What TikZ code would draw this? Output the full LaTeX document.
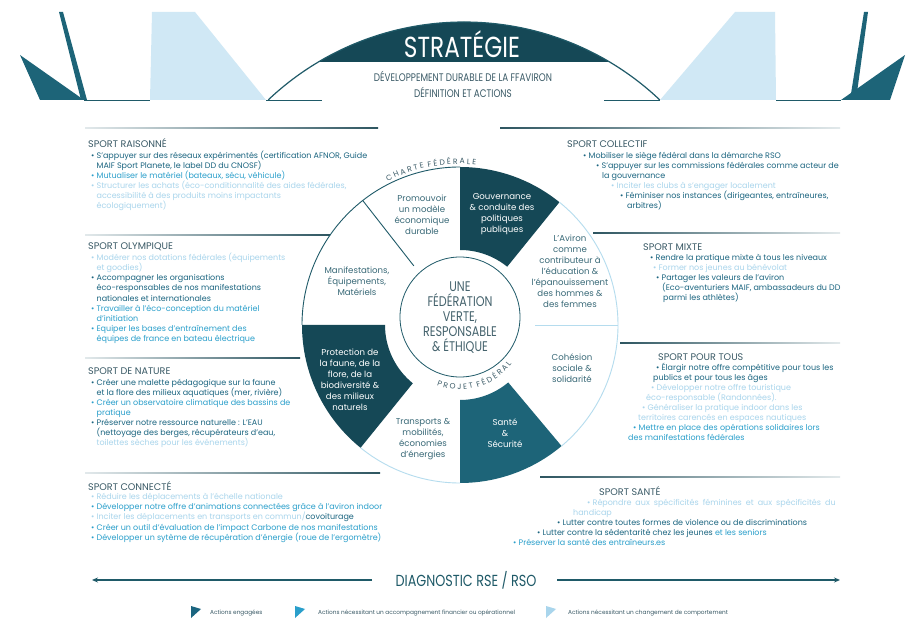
\documentclass[tikz,border=0pt]{standalone}
\usepackage{fontspec}
\setmainfont{Poppins}
\newfontfamily\narrowfont[FakeStretch=0.8]{Poppins}
\usetikzlibrary{decorations.text,arrows.meta}
\definecolor{darkteal}{HTML}{154856}
\definecolor{midteal}{HTML}{1D6478}
\definecolor{lineteal}{HTML}{1F5A68}
\definecolor{paleblue}{HTML}{D0E8F5}
\definecolor{ringblue}{HTML}{B5DCEE}
\definecolor{cEng}{HTML}{1B6580}
\definecolor{cAcc}{HTML}{2A9FCB}
\definecolor{cChg}{HTML}{A9D5EC}
\definecolor{headc}{HTML}{3A5A66}
\definecolor{corec}{HTML}{45636D}
\definecolor{wedgetext}{HTML}{3A6A78}
\definecolor{sepdark}{HTML}{2D5560}
\definecolor{seplight}{HTML}{E2E9EB}
\newcommand{\bl}{\textbullet\ }
\newcommand{\ind}{\hphantom{\textbullet\ }}
\begin{document}
\begin{tikzpicture}[x=1pt,y=1pt,
  bt/.style={anchor=base west, inner sep=0pt, font=\fontsize{8}{10}\selectfont},
  hd/.style={anchor=base west, inner sep=0pt, font=\fontsize{9.6}{10}\selectfont, text=headc},
  wl/.style={align=center, inner sep=0pt, font=\fontsize{8.6}{11}\selectfont, text=wedgetext},
  wlw/.style={wl, text=white},
  lg/.style={anchor=base west, inner sep=0pt, font=\fontsize{5.8}{6}\selectfont, text=headc}
  ]
\useasboundingbox (0,0) rectangle (906,-620);
\fill[white] (0,0) rectangle (906,-620);

% ---------- top decorations ----------
\fill[paleblue] (152,-12) -- (195,-12) -- (266,-100) -- (150,-100) -- cycle;
\fill[paleblue] (735,-12) -- (775,-12) -- (776,-100) -- (660,-100) -- cycle;
\fill[midteal] (20,-55) -- (84,-100) -- (40,-100) -- cycle;
\fill[midteal] (59,-12) -- (63,-12) -- (87,-100) -- (81,-100) -- cycle;
\fill[midteal] (905,-55) -- (890,-100) -- (841,-100) -- cycle;
\fill[midteal] (864,-12) -- (868,-12) -- (856,-100) -- (850,-100) -- cycle;
\draw[lineteal, line width=0.8] (84,-100) -- (150,-100);
\draw[lineteal, line width=0.8] (776,-100) -- (841,-100);
\draw[lineteal, line width=0.8] (266,-100) -- (322,-100);
\draw[lineteal, line width=0.8] (604,-100) -- (660,-100);

% ---------- dome ----------
\begin{scope}
\clip (464,-307) circle[radius=285];
\fill[darkteal] (150,-15) rectangle (780,-62);
\end{scope}
\draw[lineteal, line width=1.2] (464,-307) ++(133.4:285) arc[start angle=133.4,end angle=46.6,radius=285];
\node[font=\narrowfont\fontsize{29}{29}\selectfont, text=white, inner sep=0pt] (title) at (462,-44) {STRATÉGIE};
\node[align=center, font=\narrowfont\fontsize{11}{16}\selectfont, text=headc, inner sep=0pt] (sub) at (463,-84) {DÉVELOPPEMENT DURABLE DE LA FFAVIRON\\DÉFINITION ET ACTIONS};

% ---------- separator lines ----------
\shade[left color=seplight, right color=sepdark] (85,-127.5) rectangle (378,-128.7);
\shade[left color=seplight, right color=sepdark] (85,-234.5) rectangle (330,-235.7);
\shade[left color=seplight, right color=sepdark] (85,-357.5) rectangle (300,-358.7);
\shade[left color=seplight, right color=sepdark] (85,-472.5) rectangle (380,-473.7);
\shade[left color=sepdark, right color=seplight] (500,-127.5) rectangle (840,-128.7);
\shade[left color=sepdark, right color=seplight] (593,-232.5) rectangle (840,-233.7);
\shade[left color=sepdark, right color=seplight] (620,-342.5) rectangle (840,-343.7);
\shade[left color=sepdark, right color=seplight] (540,-476.5) rectangle (840,-477.7);

% ---------- wheel ----------
\begin{scope}[shift={(460,-325)}]
\fill[darkteal] (51:75) -- (51:158) arc[start angle=51,end angle=90,radius=158] -- (90:75) arc[start angle=90,end angle=51,radius=75] -- cycle;
\fill[darkteal] (180:75) -- (180:158) arc[start angle=180,end angle=231,radius=158] -- (231:75) arc[start angle=231,end angle=180,radius=75] -- cycle;
\fill[midteal] (270:75) -- (270:158) arc[start angle=270,end angle=310,radius=158] -- (310:75) arc[start angle=310,end angle=270,radius=75] -- cycle;
\draw[lineteal, line width=0.9] (90:158) arc[start angle=90,end angle=180,radius=158];
\draw[ringblue, line width=0.9] (231:158) arc[start angle=231,end angle=270,radius=158];
\draw[ringblue, line width=0.9] (310:158) arc[start angle=310,end angle=411,radius=158];
\draw[lineteal, line width=0.9] (128:75) -- (128:158);
\draw[ringblue, line width=0.9] (0:75) -- (0:158);
\path[decorate, decoration={text along path, text align=center,
  text={|\fontsize{7.6}{7.6}\selectfont\color{headc}|C H A R T E \ F É D É R A L E}}]
  (120:161) arc[start angle=120,end angle=81,radius=161];
\path[decorate, decoration={text along path, text align=center,
  text={|\fontsize{7.6}{7.6}\selectfont\color{headc}|P R O J E T \ F É D É R A L}}]
  (-120:64.5) arc[start angle=-120,end angle=-28,radius=64.5];
\end{scope}
\draw[lineteal, line width=0.8] (460,-317) circle[radius=60];

\node[align=center, inner sep=0pt, font=\narrowfont\fontsize{14}{15}\selectfont, text=corec] (core) at (460,-318) {UNE\\FÉDÉRATION\\VERTE,\\RESPONSABLE\\\& ÉTHIQUE};
\node[wl] (w1) at (422,-214.5) {Promouvoir\\un modèle\\économique\\durable};
\node[wlw] (w2) at (502,-214.5) {Gouvernance\\\& conduite des\\politiques\\publiques};
\node[wl] (w3) at (570,-271.5) {L’Aviron\\comme\\contributeur à\\l’éducation \&\\l’épanouissement\\des hommes \&\\des femmes};
\node[wl] (w4) at (572,-368) {Cohésion\\sociale \&\\solidarité};
\node[wlw] (w5) at (505,-433) {Santé\\\&\\Sécurité};
\node[wl] (w6) at (423,-439.5) {Transports \&\\mobilités,\\économies\\d’énergies};
\node[wlw] (w7) at (350,-379.5) {Protection de\\la faune, de la\\flore, de la\\biodiversité \&\\des milieux\\naturels};
\node[wl] (w8) at (357,-281) {Manifestations,\\Équipements,\\Matériels};

% ---------- left texts ----------
\node[hd] (h1) at (88,-148) {SPORT RAISONNÉ};
\node[bt, text=cEng] (a1) at (91,-159) {\bl S’appuyer sur des réseaux expérimentés (certification AFNOR, Guide};
\node[bt, text=cEng] (a2) at (91,-169) {\ind MAIF Sport Planete, le label DD du CNOSF)};
\node[bt, text=cAcc] (a3) at (91,-179) {\bl Mutualiser le matériel (bateaux, sécu, véhicule)};
\node[bt, text=cChg] (a4) at (91,-189) {\bl Structurer les achats (éco-conditionnalité des aides fédérales,};
\node[bt, text=cChg] (a5) at (91,-199) {\ind accessibilité à des produits moins impactants};
\node[bt, text=cChg] (a6) at (91,-209) {\ind écologiquement)};

\node[hd] (h2) at (88,-249.5) {SPORT OLYMPIQUE};
\node[bt, text=cChg] (b1) at (91,-260.5) {\bl Modérer nos dotations fédérales (équipements};
\node[bt, text=cChg] (b2) at (91,-270.5) {\ind et goodies)};
\node[bt, text=cEng] (b3) at (91,-281) {\bl Accompagner les organisations};
\node[bt, text=cEng] (b4) at (91,-291) {\ind éco-responsables de nos manifestations};
\node[bt, text=cEng] (b5) at (91,-301.5) {\ind nationales et internationales};
\node[bt, text=cAcc] (b6) at (91,-312) {\bl Travailler à l’éco-conception du matériel};
\node[bt, text=cAcc] (b7) at (91,-322) {\ind d’initiation};
\node[bt, text=cAcc] (b8) at (91,-332) {\bl Equiper les bases d’entraînement des};
\node[bt, text=cAcc] (b9) at (91,-342) {\ind équipes de france en bateau électrique};

\node[hd] (h3) at (88,-374.5) {SPORT DE NATURE};
\node[bt, text=cEng] (c1) at (91,-385.5) {\bl Créer une malette pédagogique sur la faune};
\node[bt, text=cEng] (c2) at (91,-395.5) {\ind et la flore des milieux aquatiques (mer, rivière)};
\node[bt, text=cAcc] (c3) at (91,-406) {\bl Créer un observatoire climatique des bassins de};
\node[bt, text=cAcc] (c4) at (91,-416) {\ind pratique};
\node[bt, text=cEng] (c5) at (91,-426) {\bl Préserver notre ressource naturelle : L’EAU};
\node[bt, text=cEng] (c6) at (91,-436) {\ind (nettoyage des berges, récupérateurs d’eau,};
\node[bt, text=cChg] (c7) at (91,-446) {\ind toilettes sèches pour les événements)};

\node[hd] (h4) at (88,-490) {SPORT CONNECTÉ};
\node[bt, text=cChg] (d1) at (91,-500) {\bl Réduire les déplacements à l’échelle nationale};
\node[bt, text=cAcc] (d2) at (91,-510) {\bl Développer notre offre d’animations connectées grâce à l’aviron indoor};
\node[bt, text=cChg] (d3) at (91,-520) {\bl Inciter les déplacements en transports en commun/\textcolor{cEng}{covoiturage}};
\node[bt, text=cAcc] (d4) at (91,-530) {\bl Créer un outil d’évaluation de l’impact Carbone de nos manifestations};
\node[bt, text=cAcc] (d5) at (91,-540) {\bl Développer un sytème de récupération d’énergie (roue de l’ergomètre)};

% ---------- right texts ----------
\node[hd] (h5) at (567,-148) {SPORT COLLECTIF};
\node[bt, text=cEng] (e1) at (583,-158.5) {\bl Mobiliser le siège fédéral dans la démarche RSO};
\node[bt, text=cEng] (e2) at (596,-168.5) {\bl S’appuyer sur les commissions fédérales comme acteur de};
\node[bt, text=cEng] (e3) at (602,-178.5) {la gouvernance};
\node[bt, text=cChg] (e4) at (611,-188.5) {\bl Inciter les clubs à s’engager localement};
\node[bt, text=cEng] (e5) at (620,-198.5) {\bl Féminiser nos instances (dirigeantes, entraîneures,};
\node[bt, text=cEng] (e6) at (627,-208.5) {arbitres)};

\node[hd] (h6) at (643,-250.5) {SPORT MIXTE};
\node[bt, text=cEng] (f1) at (650,-260.5) {\bl Rendre la pratique mixte à tous les niveaux};
\node[bt, text=cChg] (f2) at (653,-270.5) {\bl Former nos jeunes au bénévolat};
\node[bt, text=cEng] (f3) at (656,-280.5) {\bl Partager les valeurs de l’aviron};
\node[bt, text=cEng] (f4) at (662,-290.5) {(Eco-aventuriers MAIF, ambassadeurs du DD};
\node[bt, text=cEng] (f5) at (663,-300.5) {parmi les athlètes)};

\node[hd] (h7) at (658,-360.5) {SPORT POUR TOUS};
\node[bt, text=cEng] (g1) at (656,-370.5) {\bl Élargir notre offre compétitive pour tous les};
\node[bt, text=cEng] (g2) at (653,-380.5) {publics et pour tous les âges};
\node[bt, text=cChg] (g3) at (651,-390.5) {\bl Développer notre offre touristique};
\node[bt, text=cChg] (g4) at (646,-400.5) {éco-responsable (Randonnées).};
\node[bt, text=cChg] (g5) at (642,-410.5) {\bl Généraliser la pratique indoor dans les};
\node[bt, text=cChg] (g6) at (638,-420.5) {territoires carencés en espaces nautiques};
\node[bt, text=cAcc] (g7) at (633,-430.5) {\bl Mettre en place des opérations solidaires lors};
\node[bt, text=cAcc] (g8) at (628,-440.5) {des manifestations fédérales};

\node[hd] (h8) at (599,-496) {SPORT SANTÉ};
\node[bt, text=cChg] (k1) at (587,-505.5) {\bl \makebox[243pt][s]{Répondre aux spécificités féminines et aux spécificités du}};
\node[bt, text=cChg] (k2) at (573,-515.5) {handicap};
\node[bt, text=cEng] (k3) at (557,-525.5) {\bl Lutter contre toutes formes de violence ou de discriminations};
\node[bt, text=cEng] (k4) at (537,-535.5) {\bl Lutter contre la sédentarité chez les jeunes \textcolor{cAcc}{et les seniors}};
\node[bt, text=cAcc] (k5) at (513,-545.5) {\bl Préserver la santé des entraîneurs.es};

% ---------- diagnostic ----------
\node[font=\narrowfont\fontsize{16}{16}\selectfont, text=lineteal, inner sep=0pt] (diag) at (466,-580) {DIAGNOSTIC RSE / RSO};
\coordinate (lb) at (372,-580);
\coordinate (la) at (92,-580);
\coordinate (rb) at (557,-580);
\coordinate (ra) at (840,-580);
\draw[lineteal, line width=1.2, -{Stealth[length=6pt,width=5pt]}] (lb) -- (la);
\draw[lineteal, line width=1.2, -{Stealth[length=6pt,width=5pt]}] (rb) -- (ra);

% ---------- legend ----------
\fill[cEng] (191,-606) -- (201,-609) -- (191,-618) -- cycle;
\node[lg] (l1) at (210,-614) {Actions engagées};
\fill[cAcc] (295,-606) -- (305,-609) -- (295,-618) -- cycle;
\node[lg] (l2) at (318,-614) {Actions nécessitant un accompagnement financier ou opérationnel};
\fill[cChg] (546,-606) -- (556,-609) -- (546,-618) -- cycle;
\node[lg] (l3) at (568,-614) {Actions nécessitant un changement de comportement};
\end{tikzpicture}
\end{document}
